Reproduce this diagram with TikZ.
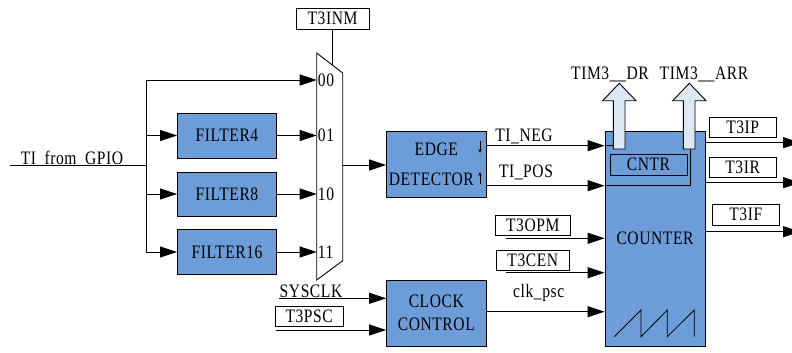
\documentclass[tikz,border=0pt]{standalone}
\usepackage{fontspec}
\setmainfont{Liberation Serif}[FakeStretch=0.82,LetterSpace=3,WordSpace=1.9]
\usepackage{tikz}
\usetikzlibrary{arrows.meta}

\definecolor{blkfill}{RGB}{108,157,216}
\definecolor{holfill}{RGB}{221,232,245}

\tikzset{
  blk/.style={draw, fill=blkfill, line width=0.9pt, inner sep=0pt, align=center},
  regbox/.style={draw, fill=white, line width=0.8pt, inner sep=0pt},
  arr/.style={line width=0.9pt, -{Triangle[length=17pt,width=11pt]}},
  wire/.style={line width=0.9pt},
  hollow/.style={draw, fill=holfill, line width=0.9pt},
}

\begin{document}
\begin{tikzpicture}[x=1pt,y=1pt,yscale=-1,xscale=1,font=\fontsize{19}{22}\selectfont]
\useasboundingbox (0,0) rectangle (792,353);
\clip (0,0) rectangle (792,353);

%Shape: Rectangle (filters)
\node[blk, minimum width=99pt, minimum height=45pt] (flt4) at (227,135.5) {FILTER4};
\node[blk, minimum width=99pt, minimum height=44pt] (flt8) at (227,194) {FILTER8};
\node[blk, minimum width=99pt, minimum height=45pt] (flt16) at (227,252) {FILTER16};

%Shape: Mux
\draw[wire, fill=white] (316.7,53) coordinate (muxtl) -- (342.7,73) -- (342.7,260.7) -- (316.7,280) -- cycle;
\coordinate (in00) at (316.7,80);
\coordinate (muxsel) at (332.5,65.2);
\coordinate (muxo) at (342.7,165);

%Shape: Rectangle (blocks)
\node[blk, minimum width=99.3pt, minimum height=66.7pt] (ed) at (436.3,164.3) {EDGE\\[8pt]DETECTOR\kern10pt};
\node[blk, minimum width=99.3pt, minimum height=66pt] (cc) at (436.3,313) {CLOCK\\[0.6pt]CONTROL};
\node[blk, minimum width=100pt, minimum height=215pt] (cnt) at (655,238.5) {COUNTER};
\node[draw, line width=0.9pt, inner sep=0pt, minimum width=77pt, minimum height=20.7pt] (cntr) at (648.5,164.7) {CNTR};

%Shape: Register boxes
\node[regbox, minimum width=73pt, minimum height=21pt] (t3inm) at (332.5,18.5) {T3INM};
\node[regbox, minimum width=66.7pt, minimum height=19.6pt] (t3ip) at (742.7,127.5) {T3IP};
\node[regbox, minimum width=66.7pt, minimum height=20pt] (t3ir) at (742.7,167.7) {T3IR};
\node[regbox, minimum width=66.3pt, minimum height=20.3pt] (t3if) at (745.8,214.8) {T3IF};
\node[regbox, minimum width=74.3pt, minimum height=20pt] (t3opm) at (532.8,225) {T3OPM};
\node[regbox, minimum width=73.7pt, minimum height=20pt] (t3cen) at (532.8,260) {T3CEN};
\node[regbox, minimum width=68.3pt, minimum height=19.3pt] (t3psc) at (309.2,316.3) {T3PSC};

% Text Node
\node (gpiolbl) at (72,157.5) {TI from GPIO};
\node (sysclk) at (311,291) {SYSCLK};
\node (neglbl) at (524,136) {TI\_NEG};
\node (poslbl) at (526,172.5) {TI\_POS};
\node (psclbl) at (538.7,293) {clk\_psc};
\node (drlbl) at (610,74) {TIM3\_\_DR};
\node (arrlbl) at (704,74) {TIM3\_\_ARR};
\node[anchor=west, inner sep=1pt] (l00) at (in00) {00};
\node[anchor=west, inner sep=1pt] (l01) at (flt4 -| muxtl) {01};
\node[anchor=west, inner sep=1pt] (l10) at (flt8 -| muxtl) {10};
\node[anchor=west, inner sep=1pt] (l11) at (flt16 -| muxtl) {11};

%Straight Lines (input tree)
\coordinate (gpio) at (10,165.3);
\coordinate (tap) at (146,165.3);
\draw[wire] (gpio) -- (tap);
\draw[wire] (tap |- in00) -- (tap |- flt16);
\draw[arr] (tap |- in00) -- (in00);
\draw[arr] (tap |- flt4) -- (flt4);
\draw[arr] (tap |- flt8) -- (flt8);
\draw[arr] (tap |- flt16) -- (flt16);
\draw[arr] (flt4) -- (flt4 -| muxtl);
\draw[arr] (flt8) -- (flt8 -| muxtl);
\draw[arr] (flt16) -- (flt16 -| muxtl);
\draw[wire] (t3inm.south) -- (muxsel);
\draw[arr] (muxo) -- (muxo -| ed.west);

%Edge marks
\draw[line width=0.7pt, -{Stealth[length=4pt,width=3.5pt]}] (480,141) -- (480,153);
\draw[line width=0.7pt, -{Stealth[length=4pt,width=3.5pt]}] (480,184) -- (480,172);

%Straight Lines (clock)
\coordinate (sys) at (279,298.3);
\coordinate (psc) at (275.7,330);
\draw[arr] (sys) -- (sys -| cc.west);
\draw[arr] (psc) -- (psc -| cc.west);
\coordinate (clk) at (486,311.7);
\draw[arr] (clk) -- (clk -| cnt.west);

%Straight Lines (counter inputs)
\coordinate (opm) at (505.7,238.3);
\coordinate (cen) at (505.7,272.7);
\draw[arr] (opm) -- (opm -| cnt.west);
\draw[arr] (cen) -- (cen -| cnt.west);

%Straight Lines (edge outputs)
\coordinate (neg) at (486,145.7);
\coordinate (pos) at (486,185.7);
\coordinate (drb) at (613.3,149);
\coordinate (arrb) at (690,149);
\draw[arr] (neg) -- (neg -| cnt.west);
\draw[wire] (neg -| cnt.west) -- (neg -| drb);
\draw[arr] (pos) -- (pos -| cnt.west);
\draw[wire] (pos -| cnt.west) -- (pos -| arrb) -- (arrb);

%Shape: Hollow arrows
\draw[hollow] (drb) -- (613.3,100.7) -- (602.7,100.7) -- (619.3,83.3) -- (636,100.7) -- (625,100.7) -- (625,149) -- cycle;
\draw[hollow] (683.3,149) -- (683.3,100.7) -- (672.7,100.7) -- (689.3,83.3) -- (706,100.7) -- (695,100.7) -- (695,149) -- cycle;

%Straight Lines (outputs)
\coordinate (oip) at (800,142.7);
\coordinate (oir) at (800,182.7);
\coordinate (oif) at (800,231.7);
\draw[arr] (oip -| cnt.east) -- (oip);
\draw[arr] (oir -| cnt.east) -- (oir);
\draw[arr] (oif -| cnt.east) -- (oif);

%Sawtooth
\draw[line width=0.8pt] (614.3,336.7) -- (641,310) -- (641,336.7) -- (667.3,310) -- (667.3,336.7) -- (694.3,310) -- (694.3,336.7);

\end{tikzpicture}
\end{document}
